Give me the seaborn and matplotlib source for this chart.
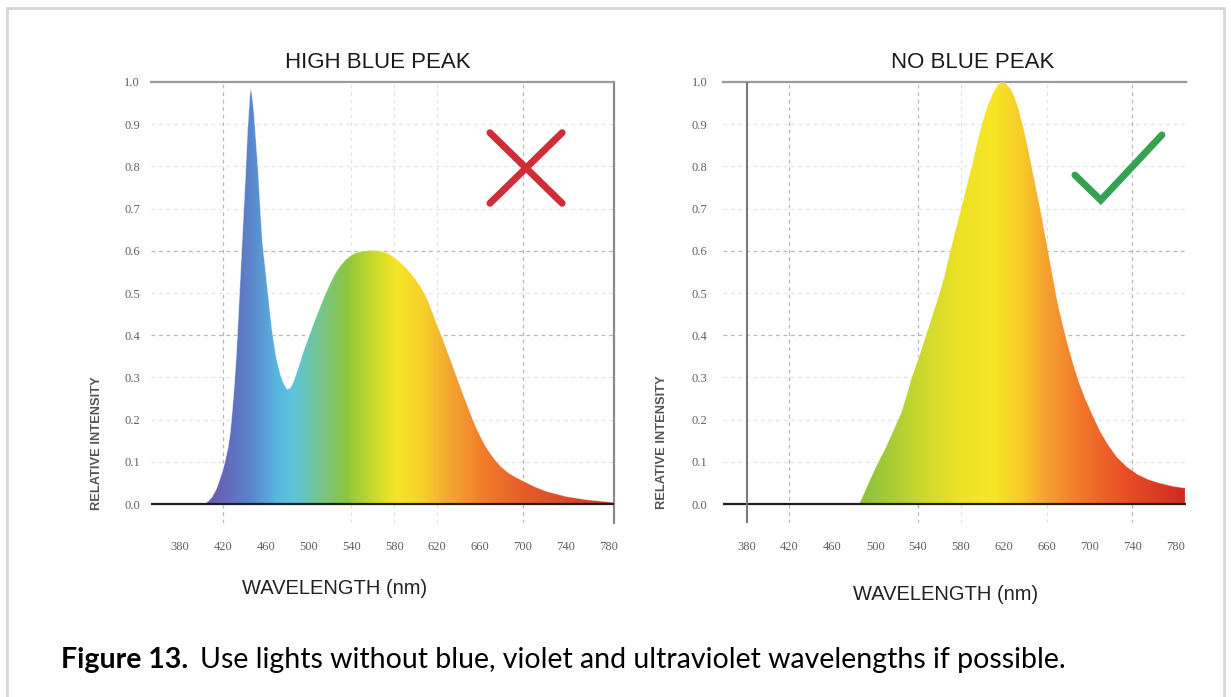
import numpy as np
import matplotlib
matplotlib.use("Agg")
import matplotlib.pyplot as plt
import seaborn as sns
from matplotlib.colors import LinearSegmentedColormap, Normalize
from matplotlib.patches import Rectangle

# Spectrum of a cold white LED with a strong blue peak (left panel)
blue_wl = [380, 400, 403, 407, 410, 414, 417, 420, 422, 425, 427, 429, 431, 433, 435, 437,
           439, 441, 443, 445, 446, 447, 449, 451, 453, 455, 457, 460, 463, 466, 470, 474,
           477, 480, 483, 486, 490, 495, 500, 505, 510, 515, 520, 525, 530, 535, 540, 545,
           550, 556, 562, 568, 574, 580, 585, 590, 595, 600, 604, 608, 612, 616, 620, 625,
           629, 633, 637, 641, 645, 649, 653, 657, 661, 665, 669, 673, 679, 686, 693, 700,
           711, 722, 740, 760, 784]
blue_int = [0.0, 0.0, 0.0, 0.008, 0.017, 0.035, 0.057, 0.08, 0.10, 0.135, 0.17, 0.225, 0.29, 0.37, 0.47, 0.57,
            0.67, 0.77, 0.88, 0.96, 0.985, 0.975, 0.93, 0.86, 0.79, 0.70, 0.62, 0.55, 0.48, 0.41, 0.345, 0.305,
            0.285, 0.272, 0.275, 0.29, 0.32, 0.36, 0.395, 0.43, 0.462, 0.494, 0.522, 0.547, 0.566, 0.58, 0.59, 0.596,
            0.599, 0.601, 0.601, 0.599, 0.594, 0.585, 0.574, 0.562, 0.548, 0.532, 0.517, 0.50, 0.478, 0.452, 0.424, 0.393,
            0.365, 0.338, 0.31, 0.282, 0.255, 0.228, 0.202, 0.178, 0.157, 0.138, 0.122, 0.108, 0.09, 0.075, 0.064, 0.055,
            0.041, 0.03, 0.018, 0.01, 0.004]

# Spectrum of a warm light without blue peak (right panel)
warm_wl = [380, 470, 485, 490, 495, 502, 510, 517, 524, 529, 534, 541, 548, 555, 560, 565,
           570, 575, 580, 585, 590, 595, 600, 605, 610, 614, 618, 622, 626, 630, 634, 638,
           642, 646, 650, 654, 658, 662, 666, 670, 675, 680, 685, 690, 696, 703, 710, 718,
           726, 735, 745, 755, 765, 778, 789]
warm_int = [0.0, 0.0, 0.0, 0.028, 0.057, 0.095, 0.135, 0.175, 0.215, 0.255, 0.30, 0.35, 0.405, 0.46, 0.50, 0.545,
            0.60, 0.65, 0.70, 0.75, 0.80, 0.855, 0.905, 0.945, 0.975, 0.992, 1.0, 0.997, 0.985, 0.965, 0.935, 0.895,
            0.85, 0.8, 0.75, 0.7, 0.645, 0.59, 0.535, 0.48, 0.425, 0.375, 0.33, 0.29, 0.25, 0.21, 0.172, 0.138,
            0.11, 0.088, 0.07, 0.058, 0.05, 0.042, 0.038]

x_ticks = [380, 420, 460, 500, 540, 580, 620, 660, 700, 740, 780]
y_ticks = [0.0, 0.1, 0.2, 0.3, 0.4, 0.5, 0.6, 0.7, 0.8, 0.9, 1.0]

titles = ["HIGH BLUE PEAK", "NO BLUE PEAK"]
x_label = "WAVELENGTH (nm)"
y_label = "RELATIVE INTENSITY"
caption_bold = "Figure 13."
caption_text = "Use lights without blue, violet and ultraviolet wavelengths if possible."

# Colour stops for each spectrum gradient (wavelength, colour)
left_stops = [(350, "#6a5cae"), (412, "#6a5fb0"), (428, "#6070c0"), (447, "#5a88cc"),
              (470, "#58b6e0"), (486, "#5ec4dc"), (507, "#72c598"), (535, "#8cc63f"),
              (560, "#c8da2c"), (582, "#f5e526"), (606, "#f7d22a"), (632, "#f4a631"),
              (666, "#f17a2a"), (705, "#e65a28"), (792, "#c0382e")]
right_stops = [(350, "#8cc23c"), (485, "#8cc23c"), (510, "#a3ca37"), (545, "#cfd92d"),
               (580, "#eee226"), (612, "#f7e625"), (640, "#f8c62b"), (662, "#f59e31"),
               (692, "#f2782a"), (730, "#ea5226"), (792, "#d02820")]


def make_cmap(stops):
    lo, hi = stops[0][0], stops[-1][0]
    return LinearSegmentedColormap.from_list("spec", [((w - lo) / (hi - lo), c) for w, c in stops]), lo, hi


W, H = 1231, 697
sns.set_theme(style="white")
plt.rcParams["font.family"] = ["Liberation Sans", "DejaVu Sans"]

fig = plt.figure(figsize=(W / 100, H / 100), dpi=100)
fig.patch.set_facecolor("white")


def px_box(x0, y0, x1, y1):
    return [x0 / W, 1 - y1 / H, (x1 - x0) / W, (y1 - y0) / H]


def spectral_fill(ax, wl, inten, stops):
    cmap, lo, hi = make_cmap(stops)
    poly = ax.fill_between(wl, inten, 0, color="none", lw=0)
    grad = np.linspace(lo, hi, 800)[None, :]
    img = ax.imshow(grad, extent=(lo, hi, 0, 1.0), cmap=cmap, norm=Normalize(lo, hi),
                    aspect="auto", origin="lower", zorder=2, interpolation="bilinear")
    img.set_clip_path(poly.get_paths()[0], transform=ax.transData)
    sns.lineplot(x=wl, y=inten, ax=ax, color="white", lw=0.6, alpha=0.5, zorder=3)


def style_axes(ax, xlim, strong_x, faint_x, ypad):
    ax.set_xlim(*xlim)
    ax.set_ylim(-0.045, 1.0)
    ax.set_xticks(x_ticks)
    ax.set_yticks(y_ticks)
    ax.set_xticklabels([str(t) for t in x_ticks])
    ax.set_yticklabels([f"{t:.1f}" for t in y_ticks])
    ax.tick_params(length=0, labelsize=9, labelcolor="#606060")
    ax.tick_params(axis="x", pad=13)
    ax.tick_params(axis="y", pad=ypad)
    for lab in ax.get_xticklabels() + ax.get_yticklabels():
        lab.set_family("Liberation Serif")
    for s in ax.spines.values():
        s.set_visible(False)
    ax.spines["top"].set_visible(True)
    ax.spines["top"].set_color("#9a9a9a")
    ax.spines["top"].set_linewidth(1.6)
    # dashed grid
    for y in y_ticks[1:-1]:
        strong = y in (0.4, 0.6)
        ax.axhline(y, color="#b8b8b8" if strong else "#e4e4e4", lw=0.9,
                   ls=(0, (3, 3)), zorder=0)
    for x in strong_x:
        ax.axvline(x, color="#b8b8b8", lw=0.9, ls=(0, (3, 3)), zorder=0)
    for x in faint_x:
        ax.axvline(x, color="#e2e2e2", lw=0.9, ls=(0, (3, 3)), zorder=0)
    ax.axhline(0, color="#1e1e1e", lw=1.6, zorder=4)
    ax.set_xlabel("")
    ax.set_ylabel("")


# Left panel
ax1 = fig.add_axes(px_box(151, 82, 614, 523))
spectral_fill(ax1, blue_wl, blue_int, left_stops)
style_axes(ax1, (353, 785), [420, 700], [540, 580, 620], 8)
ax1.spines["right"].set_visible(True)
ax1.spines["right"].set_color("#8a8a8a")
ax1.spines["right"].set_linewidth(1.6)
# red cross
cx, cy, dx, dy = 0.810, 0.805, 0.078, 0.080
for sx in (-1, 1):
    ax1.plot([cx - dx, cx + dx], [cy - sx * dy, cy + sx * dy], transform=ax1.transAxes,
             color="#cf2d38", lw=5, solid_capstyle="round", zorder=6)

# Right panel
ax2 = fig.add_axes(px_box(723, 82, 1186, 523))
spectral_fill(ax2, warm_wl, warm_int, right_stops)
style_axes(ax2, (358, 790), [420, 540, 740], [580, 660], 11)
ax2.axvline(380, color="#7a7a7a", lw=1.5, zorder=4)
# green check mark
ax2.plot([0.760, 0.816, 0.948], [0.789, 0.732, 0.880], transform=ax2.transAxes,
         color="#35a152", lw=5, solid_capstyle="round", solid_joinstyle="miter", zorder=6)

# titles and axis labels
for (xc, yc), t in zip([(378, 63), (973, 63)], titles):
    fig.text(xc / W, 1 - yc / H, t, ha="center", va="center", fontsize=16, color="#1a1a1a")
for xc, yc in [(335, 588), (946, 595)]:
    fig.text(xc / W, 1 - yc / H, x_label, ha="center", va="center", fontsize=14.5, color="#222222")
for xc, yc in [(97, 443), (662, 442)]:
    fig.text(xc / W, 1 - yc / H, y_label, ha="center", va="center", rotation=90,
             fontsize=9.3, fontweight="bold", color="#555555")

# caption
t1 = fig.text(61 / W, 1 - 660 / H, caption_bold, ha="left", va="center", fontsize=20.5,
              fontweight="bold", family="Lato", color="black")
fig.canvas.draw()
bb = t1.get_window_extent()
fig.text((bb.x1 + 12) / W, 1 - 660 / H, caption_text, ha="left", va="center",
         fontsize=20.5, family="Lato", color="black")

# outer frame
fig.patches.append(Rectangle((7 / W, -0.05), (1224 - 7) / W, 1.05 - 8 / H, transform=fig.transFigure,
                             fill=False, edgecolor="#d6d6d6", lw=2))

fig.savefig("out.png", dpi=100)
